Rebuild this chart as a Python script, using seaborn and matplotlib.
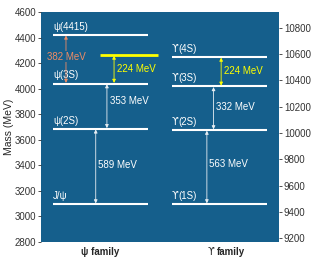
import numpy as np
import pandas as pd
import matplotlib
matplotlib.use("Agg")
import matplotlib.pyplot as plt
import seaborn as sns

# charmonium (psi) levels, MeV
psi_names = ["J/\u03c8", "\u03c8(2S)", "\u03c8(3S)", "\u03c8(4415)"]
psi_mass = [3097, 3686, 4040, 4421]
psi_extra = 4264  # yellow level
# bottomonium (upsilon) levels, MeV
ups_names = ["(1S)", "(2S)", "(3S)", "(4S)"]
ups_mass = [9460, 10023, 10355, 10579]

psi_gaps = ["589 MeV", "353 MeV", "382 MeV", "224 MeV"]
ups_gaps = ["563 MeV", "332 MeV", "224 MeV"]

UPS = "\u03d2"

sns.set_theme(style="ticks")
plt.rcParams["font.family"] = ["Liberation Sans", "DejaVu Sans"]

bg = "#155f8c"
fig = plt.figure(figsize=(3.21, 2.69), dpi=100)
ax = fig.add_axes([0.1277, 0.1004, 0.7414, 0.8550])
ax2 = ax.twinx()
ax.set_facecolor(bg)
ax.set_xlim(0, 1)
ax.set_ylim(2800, 4600)
ax2.set_ylim(9171, 10921)
for a in (ax, ax2):
    for s in a.spines.values():
        s.set_visible(False)
    a.tick_params(labelsize=7, length=2.5, width=0.6, colors="#333333", pad=1)
ax.set_xticks([])
ax.set_yticks(np.arange(2800, 4601, 200))
ax2.set_yticks(np.arange(9200, 10801, 200))
ax.set_ylabel("Mass (MeV)", fontsize=7.5)
ax.yaxis.set_label_coords(-0.112, 0.5)

tc = dict(color="white", fontsize=7)

# psi levels
ax.hlines(psi_mass, 0.05, 0.45, color="white", lw=1.5)
for n, m in zip(psi_names, psi_mass):
    ax.text(0.05, m + 25, n, ha="left", va="bottom", **tc)
ax.hlines(psi_extra, 0.25, 0.49, color="#ffff00", lw=2)

# upsilon levels
ax2.hlines(ups_mass, 0.55, 0.95, color="white", lw=1.5)
for n, m in zip(ups_names, ups_mass):
    ax2.text(0.55, m + 25, UPS, ha="left", va="bottom", family="DejaVu Sans", **tc)
    ax2.annotate(n, xy=(0.55, m + 25), xytext=(4.6, 0), textcoords="offset points",
                 ha="left", va="bottom", **tc)

def arrow(a, x, y0, y1, col):
    a.annotate("", xy=(x, y0 + 5), xytext=(x, y1 - 5),
               arrowprops=dict(arrowstyle="<|-|>", color=col, lw=0.6,
                               mutation_scale=5, shrinkA=0, shrinkB=0))

white = "#e8eef3"
orange = "#f08c64"
yellow = "#ffff00"

arrow(ax, 0.23, psi_mass[0], psi_mass[1], white)
ax.text(0.24, 3405, psi_gaps[0], ha="left", va="center", **tc)
arrow(ax, 0.277, psi_mass[1], psi_mass[2], white)
ax.text(0.29, 3900, psi_gaps[1], ha="left", va="center", **tc)
arrow(ax, 0.105, psi_mass[2], psi_mass[3], orange)
ax.text(0.105, 4250, psi_gaps[2], ha="center", va="center", color=orange,
        fontsize=7, bbox=dict(facecolor=bg, edgecolor="none", pad=0.5))
arrow(ax, 0.307, psi_mass[2], psi_extra, yellow)
ax.text(0.32, 4155, psi_gaps[3], ha="left", va="center", color=yellow, fontsize=7)

arrow(ax2, 0.697, ups_mass[0], ups_mass[1], white)
ax2.text(0.705, 9765, ups_gaps[0], ha="left", va="center", **tc)
arrow(ax2, 0.725, ups_mass[1], ups_mass[2], white)
ax2.text(0.735, 10198, ups_gaps[1], ha="left", va="center", **tc)
arrow(ax2, 0.757, ups_mass[2], ups_mass[3], yellow)
ax2.text(0.77, 10472, ups_gaps[2], ha="left", va="center", color=yellow, fontsize=7)

ax.text(0.25, -0.045, "\u03c8 family", transform=ax.transAxes, ha="center",
        va="center", fontsize=7, fontweight="bold")
ax.text(0.70, -0.045, UPS, transform=ax.transAxes, ha="left",
        va="center", fontsize=7, family="DejaVu Sans")
ax.annotate("family", xy=(0.70, -0.045), xycoords="axes fraction",
            xytext=(6.5, 0), textcoords="offset points", ha="left",
            va="center", fontsize=7, fontweight="bold")

fig.savefig("out.png", dpi=100)
